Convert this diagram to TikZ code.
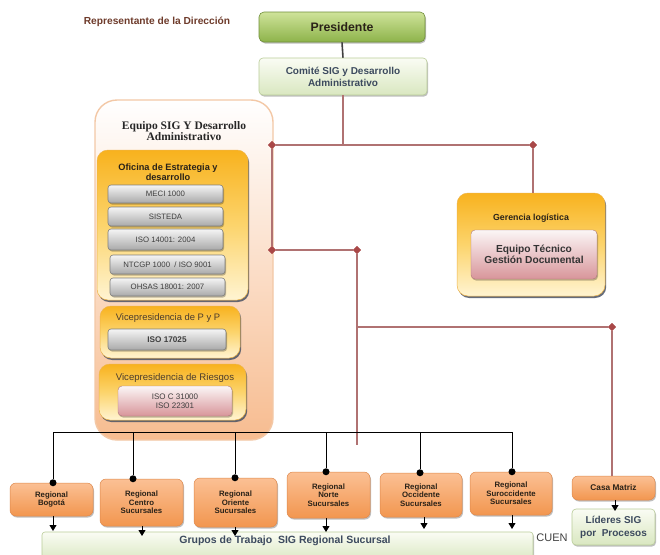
\documentclass[tikz,border=0pt]{standalone}
\usepackage{fontspec}
\setmainfont{Liberation Sans}
\newfontfamily\titleserif{Liberation Serif}
\usetikzlibrary{shapes.geometric,shadows,arrows.meta}

\definecolor{linkrose}{HTML}{B07272}
\definecolor{jointred}{HTML}{A94848}
\definecolor{repbrown}{HTML}{6E3B2B}
\definecolor{slatetext}{HTML}{3C4A5E}
\definecolor{inktext}{HTML}{2A2218}
\definecolor{vicetext}{HTML}{4A3B2C}
\definecolor{greytext}{HTML}{3E3E3E}
\definecolor{presgreenA}{HTML}{CFE39A}
\definecolor{presgreenB}{HTML}{8DB34A}
\definecolor{palegreenA}{HTML}{FAFCF4}
\definecolor{palegreenB}{HTML}{D9E7C0}
\definecolor{paleedge}{HTML}{B9CC98}
\definecolor{goldA}{HTML}{F8B21E}
\definecolor{goldM}{HTML}{FCD46C}
\definecolor{goldB}{HTML}{FFF4D2}
\definecolor{goldedge}{HTML}{EFB448}
\definecolor{silverA}{HTML}{F5F5F5}
\definecolor{silverB}{HTML}{A9A9A9}
\definecolor{silveredge}{HTML}{7E7E7E}
\definecolor{roseA}{HTML}{FBF6F6}
\definecolor{roseB}{HTML}{D8959A}
\definecolor{orangeA}{HTML}{FBC094}
\definecolor{orangeB}{HTML}{F2964F}
\definecolor{orangeedge}{HTML}{DE884C}
\definecolor{peachB}{HTML}{F7BC90}
\definecolor{peachedge}{HTML}{F3C8A6}
\definecolor{shadowgrey}{HTML}{4B5364}

\tikzset{
  every node/.style={inner sep=0pt, align=center},
  softshadow/.style={drop shadow={shadow xshift=1pt, shadow yshift=-1.5pt, fill=black, opacity=0.25}},
  darkshadow/.style={drop shadow={shadow xshift=1.2pt, shadow yshift=-2pt, fill=shadowgrey, opacity=0.85}},
  presbox/.style={rounded corners=5pt, draw=presgreenB!80!black, line width=0.6pt,
    top color=presgreenA, bottom color=presgreenB, softshadow,
    font=\fontsize{12.3}{14}\selectfont\bfseries, text=inktext},
  palebox/.style={rounded corners=4pt, draw=paleedge, line width=0.6pt,
    top color=palegreenA, bottom color=palegreenB, softshadow, text=slatetext},
  teambox/.style={rounded corners=22pt, draw=peachedge, line width=1.4pt,
    top color=white, bottom color=peachB},
  goldbox/.style={rounded corners=11pt, draw=goldedge, line width=0.5pt,
    top color=goldA, bottom color=goldB, middle color=goldM, darkshadow},
  silverbox/.style={rounded corners=3pt, draw=silveredge, line width=0.6pt,
    top color=silverA, bottom color=silverB, softshadow, text=greytext,
    font=\fontsize{7.8}{9}\selectfont},
  rosebox/.style={rounded corners=4pt, draw=roseB!80!black, line width=0.4pt,
    top color=roseA, bottom color=roseB, softshadow},
  regbox/.style={rounded corners=6pt, draw=orangeedge, line width=0.5pt,
    top color=orangeA, bottom color=orangeB, softshadow, text=inktext,
    font=\fontsize{7.8}{8.7}\selectfont\bfseries},
  link/.style={draw=linkrose, line width=1.1pt},
  joint/.style={diamond, fill=jointred, minimum size=8pt},
  bus/.style={draw=black, line width=0.9pt},
  dot/.style={circle, fill=black, minimum size=7pt},
  drop/.style={draw=black, line width=1pt, -{Triangle[length=6pt,width=7pt]}},
}

\begin{document}
\begin{tikzpicture}[x=1pt, y=-1pt]
\fill[white] (0,0) rectangle (660,554);
\useasboundingbox (0,0) rectangle (660,554);

% --- top of the chart
\node[font=\fontsize{10.2}{12}\selectfont\bfseries, text=repbrown] (rep) at (157,22) {Representante de la Dirección};
\node[presbox, minimum width=166pt, minimum height=30pt] (pres) at (342,27) {Presidente};
\node[palebox, minimum width=168pt, minimum height=37pt, font=\fontsize{10}{12}\selectfont\bfseries] (comite) at (343,76.5) {Comité SIG y Desarrollo\\Administrativo};
\draw[draw=black!75, line width=1.6pt] (pres.south) -- (comite.north);

% --- SIG team block
\node[teambox, minimum width=178pt, minimum height=340pt] (team) at (184,270) {};
\node[font=\titleserif\fontsize{11.5}{11.8}\selectfont\bfseries, text=black!85] (teamtitle) at (184,131) {Equipo SIG Y Desarrollo\\Administrativo};

\node[goldbox, minimum width=151pt, minimum height=150pt] (oficina) at (172.5,225) {};
\node[font=\fontsize{9.2}{10.5}\selectfont\bfseries, text=inktext] (ofititle) at (168,172) {Oficina de Estrategia y\\desarrollo};
\node[silverbox, minimum width=115pt, minimum height=18pt] (meci) at (165.5,194) {MECI 1000};
\node[silverbox, minimum width=115pt, minimum height=19pt] (sisteda) at (165.5,216.5) {SISTEDA};
\node[silverbox, minimum width=115pt, minimum height=21pt] (iso14) at (165.5,239.5) {ISO 14001: 2004};
\node[silverbox, minimum width=115pt, minimum height=19pt] (ntcgp) at (167.5,264.5) {NTCGP 1000 \ / ISO 9001};
\node[silverbox, minimum width=115pt, minimum height=18pt] (ohsas) at (167.5,287) {OHSAS 18001: 2007};

\node[goldbox, minimum width=140pt, minimum height=52pt] (vpp) at (170,332) {};
\node[font=\fontsize{9.4}{11}\selectfont, text=vicetext] (vpptitle) at (168,318) {Vicepresidencia de P y P};
\node[silverbox, minimum width=118pt, minimum height=21pt, font=\fontsize{8.2}{9}\selectfont\bfseries] (iso17) at (167,339.5) {ISO 17025};

\node[goldbox, minimum width=147pt, minimum height=56pt] (vriesgos) at (172.5,392) {};
\node[font=\fontsize{9.6}{11}\selectfont, text=vicetext] (vrtitle) at (175,378) {Vicepresidencia de Riesgos};
\node[rosebox, minimum width=114pt, minimum height=30pt, font=\fontsize{8}{8.6}\selectfont, text=greytext] (iso31) at (175,401) {ISO C 31000\\ISO 22301};

% --- logistics block
\node[goldbox, minimum width=148pt, minimum height=103pt] (ger) at (531,244.5) {};
\node[font=\fontsize{8.8}{10}\selectfont\bfseries, text=inktext] (gertitle) at (531,218) {Gerencia logística};
\node[rosebox, minimum width=126pt, minimum height=49pt, font=\fontsize{10.2}{11}\selectfont\bfseries, text=black!80] (equipo) at (534,254.5) {Equipo Técnico\\Gestión Documental};

% --- rose connectors with diamond joints
\node[joint] (dm1) at (272,145) {};
\node[joint] (dm2) at (533,145) {};
\node[joint] (dm3) at (272,250) {};
\node[joint] (dm4) at (357,250) {};
\node[joint] (dm5) at (612,327) {};
\coordinate (jc) at (comite.south |- dm1);
\coordinate (j2) at (357,327);
\coordinate (e1) at (357,445);

% --- regional offices
\node[regbox, minimum width=83pt, minimum height=33pt] (bog) at (51.5,499.5) {Regional\\Bogotá};
\node[regbox, minimum width=83pt, minimum height=47pt] (cen) at (141.5,502.5) {Regional\\Centro\\Sucursales};
\node[regbox, minimum width=83pt, minimum height=49pt] (ori) at (235.5,502.5) {Regional\\Oriente\\Sucursales};
\node[regbox, minimum width=83pt, minimum height=46pt] (nor) at (328.5,495) {Regional\\Norte\\Sucursales};
\node[regbox, minimum width=82pt, minimum height=44pt] (occ) at (421,495) {Regional\\Occidente\\Sucursales};
\node[regbox, minimum width=82pt, minimum height=43pt] (sur) at (511,493.5) {Regional\\Suroccidente\\Sucursales};
\node[regbox, minimum width=83pt, minimum height=24pt, font=\fontsize{8.3}{9}\selectfont\bfseries] (casa) at (613.5,488) {Casa Matriz};

% --- bottom groups
\node[palebox, rounded corners=3pt, minimum width=491pt, minimum height=30pt] (grupos) at (287.5,547) {};
\node[font=\fontsize{10.5}{12}\selectfont\bfseries, text=slatetext] (grtxt) at (285,541) {Grupos de Trabajo \ SIG Regional Sucursal};
\node[font=\fontsize{11}{12}\selectfont, text=black!75] (cuen) at (552,538) {CUEN};
\node[palebox, minimum width=83pt, minimum height=36pt, font=\fontsize{10}{13}\selectfont\bfseries] (lideres) at (613.5,527) {Líderes SIG\\por \ Procesos};

% rose connectors
\draw[link] (comite.south) -- (jc);
\draw[link] (dm1) -- (dm2);
\draw[link] (dm2) -- (dm2 |- ger.north);
\draw[link] (dm1) -- (dm3);
\draw[link] (dm3) -- (dm4);
\draw[link] (dm4) -- (e1);
\draw[link] (j2) -- (dm5);
\draw[link] (dm5) -- (dm5 |- casa.north);
\foreach \d in {dm1,dm2,dm3,dm4,dm5} \node[joint] at (\d) {};

% black distribution bus
\coordinate (b1) at (53,432);
\coordinate (b2) at (133,432);
\coordinate (b3) at (235,432);
\coordinate (b4) at (326,432);
\coordinate (b5) at (420,432);
\coordinate (b6) at (512,432);
\draw[bus] (b1) -- (b6);
\node[dot] (dbog) at (b1 |- bog.north) {};
\node[dot] (dcen) at (b2 |- cen.north) {};
\node[dot] (dori) at (b3 |- ori.north) {};
\node[dot] (dnor) at (b4 |- nor.north) {};
\node[dot] (docc) at (b5 |- occ.north) {};
\node[dot] (dsur) at (b6 |- sur.north) {};
\draw[bus] (b1) -- (dbog);
\draw[bus] (b2) -- (dcen);
\draw[bus] (b3) -- (dori);
\draw[bus] (b4) -- (dnor);
\draw[bus] (b5) -- (docc);
\draw[bus] (b6) -- (dsur);

% arrows into the groups
\coordinate (abog) at (53,531);
\coordinate (acen) at (142,536);
\coordinate (aori) at (235,536);
\coordinate (anor) at (326,532);
\coordinate (aocc) at (424,529);
\coordinate (asur) at (512,529);
\coordinate (acasa) at (615,511);
\draw[drop] (bog.south -| abog) -- (abog);
\draw[drop] (cen.south -| acen) -- (acen);
\draw[drop] (ori.south -| aori) -- (aori);
\draw[drop] (nor.south -| anor) -- (anor);
\draw[drop] (occ.south -| aocc) -- (aocc);
\draw[drop] (sur.south -| asur) -- (asur);
\draw[drop] (casa.south -| acasa) -- (acasa);
\end{tikzpicture}
\end{document}
